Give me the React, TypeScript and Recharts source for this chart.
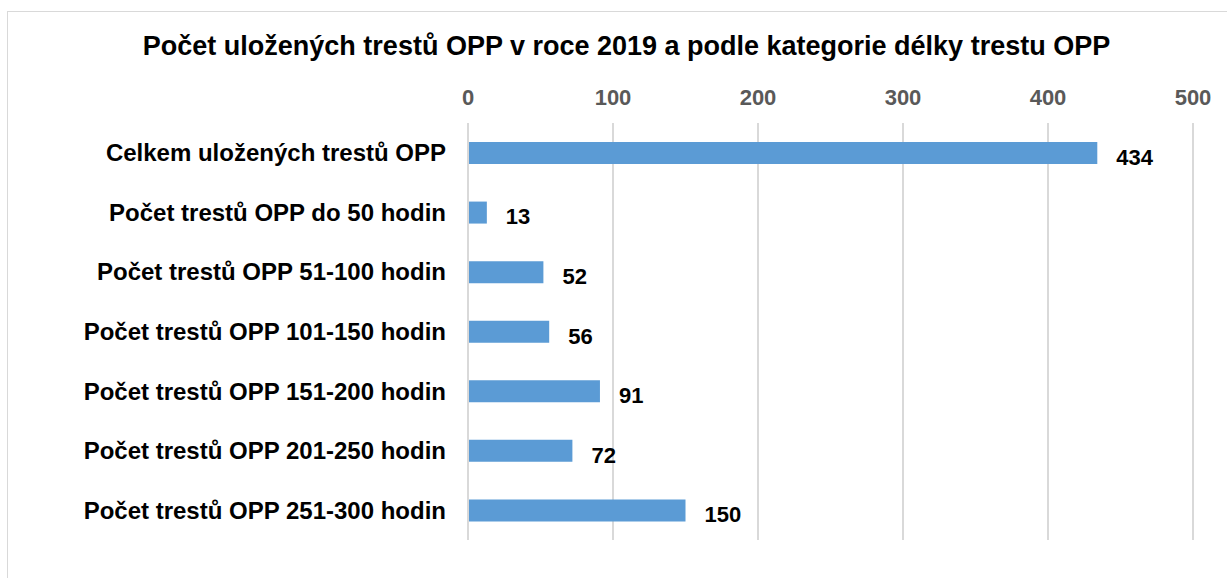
import { BarChart, Bar, XAxis, YAxis, CartesianGrid, LabelList } from 'recharts';

const categories = [
  'Celkem uložených trestů OPP',
  'Počet trestů OPP do 50 hodin',
  'Počet trestů OPP 51-100 hodin',
  'Počet trestů OPP 101-150 hodin',
  'Počet trestů OPP 151-200 hodin',
  'Počet trestů OPP 201-250 hodin',
  'Počet trestů OPP 251-300 hodin',
];
const counts = [434, 13, 52, 56, 91, 72, 150];
const xTicks = [0, 100, 200, 300, 400, 500];

const data = categories.map((name, i) => ({ name, value: counts[i] }));

const FONT = '"Liberation Sans", Arial, sans-serif';

const ValueLabel = (props: any) => {
  const { x, y, width, height, value } = props;
  return (
    <text
      x={x + width + 19}
      y={y + height / 2 + 6}
      dominantBaseline="middle"
      fill="#000"
      fontFamily={FONT}
      fontWeight="bold"
      fontSize={22}
    >
      {value}
    </text>
  );
};

export default function App() {
  return (
    <div style={{ position: 'absolute', left: 0, top: 0, width: 1227, height: 578, background: '#fff', overflow: 'hidden' }}>
      <div style={{ position: 'absolute', left: 7, top: 11, width: 1300, height: 700, border: '1px solid #d9d9d9' }} />
      <div
        style={{
          position: 'absolute',
          left: 0,
          top: 31,
          width: 1253,
          textAlign: 'center',
          fontFamily: FONT,
          fontWeight: 'bold',
          fontSize: 27,
          lineHeight: '31px',
          color: '#000',
        }}
      >
        Počet uložených trestů OPP v roce 2019 a podle kategorie délky trestu OPP
      </div>
      <div style={{ position: 'absolute', left: 0, top: 0 }}>
        <BarChart
          width={1227}
          height={578}
          data={data}
          layout="vertical"
          margin={{ top: 83, right: 34, bottom: 38, left: 0 }}
        >
          <CartesianGrid horizontal={false} stroke="#d9d9d9" strokeWidth={2} />
          <XAxis
            type="number"
            orientation="top"
            domain={[0, 500]}
            ticks={xTicks}
            axisLine={false}
            tickLine={false}
            height={40}
            tickMargin={12}
            tick={{ fill: '#595959', fontFamily: FONT, fontWeight: 'bold', fontSize: 22 }}
          />
          <YAxis
            type="category"
            dataKey="name"
            width={468}
            axisLine={{ stroke: '#d9d9d9', strokeWidth: 2 }}
            tickLine={false}
            tickMargin={16}
            tick={{ fill: '#000', fontFamily: FONT, fontWeight: 'bold', fontSize: 24 }}
          />
          <Bar dataKey="value" fill="#5b9bd5" barSize={22} isAnimationActive={false}>
            <LabelList dataKey="value" content={<ValueLabel />} />
          </Bar>
        </BarChart>
      </div>
    </div>
  );
}
